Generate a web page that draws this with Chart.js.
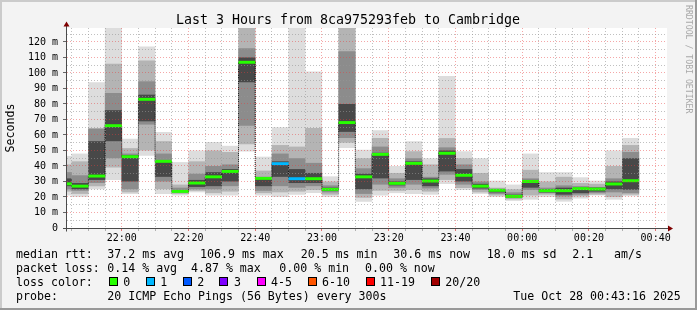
<!DOCTYPE html>
<html>
<head>
<meta charset="utf-8">
<script src="https://cdn.jsdelivr.net/npm/chart.js@4.4.1/dist/chart.umd.min.js"></script>
<style>
  html, body { margin: 0; padding: 0; background: #f3f3f3; }
  canvas { display: block; }
</style>
</head>
<body>
<canvas id="smoke" width="697" height="310"></canvas>
<script>
// 5 minute bins, start time of each bin
var times = ["21:40", "21:45", "21:50", "21:55", "22:00", "22:05", "22:10", "22:15", "22:20", "22:25",
             "22:30", "22:35", "22:40", "22:45", "22:50", "22:55", "23:00", "23:05", "23:10", "23:15",
             "23:20", "23:25", "23:30", "23:35", "23:40", "23:45", "23:50", "23:55", "00:00", "00:05",
             "00:10", "00:15", "00:20", "00:25", "00:30"];

// median rtt (ms) and lost pings per bin
var median = [28.5, 27, 33.5, 66, 46, 83, 43, 23.6, 29, 33, 36.5, 106.9, 32, 41.5, 31.8, 31.8, 24.9, 68,
              33, 47.5, 28.8, 41.7, 30.3, 48.2, 34, 27, 24.3, 20.4, 30, 24.1, 24.1, 25.4, 25.1, 28.4, 30.5];
var lost = [0, 0, 0, 0, 0, 0, 0, 0, 0, 0, 0, 0, 0, 1, 1, 0, 0, 0, 0, 0, 0, 0, 0, 0, 0, 0, 0, 0, 0, 0, 0, 0, 0, 0, 0];

// smoke bands (ms), outermost to innermost
var outerLo = [21, 20, 25, 31, 22, 46.6, 22, 21, 23, 21, 21, 49.4, 21, 20, 21.5, 22.5, 20, 51.6, 17, 21,
               22.5, 22, 21.5, 28.4, 24.5, 22, 20, 17.5, 18.3, 20, 17, 19, 21, 18.3, 20.5];
var outerHi = [46.5, 48, 94, 135, 57.5, 117, 62, 42.5, 50, 55.5, 53, 140, 46, 65, 140, 101, 33.3, 140, 50.5, 63,
               40, 56, 45, 98, 49.5, 45, 30.5, 28, 48, 36, 36, 32.7, 30.5, 50, 58];
var band2Lo = [23.5, 22, 27, 39, 23, 50, 25, 22, 24, 22.5, 23.5, 54, 22.5, 23, 23.5, 24.5, 21.5, 55, 19.5, 24,
               24, 24.5, 23.5, 31, 25.8, 23, 21, 18.5, 21, 21.5, 18.5, 20.4, 21.5, 20, 21.5];
var band2Hi = [41, 43, 64.5, 106, 51.5, 108, 56, 28, 43, 50, 49, 140, 37, 53.5, 52.5, 64.5, 30, 140, 45, 58,
               35.5, 49.5, 41, 58, 45, 35.5, 26, 25, 37.5, 30, 33, 29, 28.5, 40, 53.5];
var band3Lo = [25, 24, 29, 45, 25, 66.7, 30, 22.8, 25, 25, 27, 66, 24, 27, 26, 27, 23, 58, 22, 28,
               26, 28, 25.5, 34.4, 28, 24.5, 22, 19.3, 24.5, 22.5, 20.4, 21.5, 22.5, 23, 22.5];
var band3Hi = [36, 34, 64, 87, 48, 94.6, 48, 26, 35, 40, 41, 116, 33, 48, 45, 42, 27.5, 114, 38.5, 52.5,
               32, 45, 33, 52, 41, 30, 25.3, 23, 32, 26, 27.5, 27, 26.5, 32, 49];
var band4Lo = [27, 25, 31, 56, 30, 68.8, 33, 23.2, 26.5, 27, 30, 94, 27, 33, 29, 29, 24, 62, 25, 32,
               27.5, 31, 27, 36.5, 30, 25.5, 23, 19.8, 26, 23, 21.5, 22.5, 23.5, 25, 24.7];
var band4Hi = [32, 29, 56, 76, 47, 86, 43.5, 24.5, 31, 36, 38, 110, 32.5, 43, 38, 35.5, 26, 80, 35, 48.5,
               30, 43, 32, 50, 38, 28.5, 25, 21.5, 31, 25, 26, 26, 26, 30, 45];

var xLabels = ["22:00", "22:20", "22:40", "23:00", "23:20", "23:40", "00:00", "00:20", "00:40"];

var lossLabels = ["0", "1", "2", "3", "4-5", "6-10", "11-19", "20/20"];
var lossColors = ["#26ff00", "#00b8ff", "#0059ff", "#7e00ff", "#ff00ff", "#ff5500", "#ff0000", "#a10000"];

var rttStats = ["37.2 ms avg", "106.9 ms max", "20.5 ms min", "30.6 ms now", "18.0 ms sd", "2.1", "am/s"];
var lossStats = ["0.14 % avg", "4.87 % max", "0.00 % min", "0.00 % now"];

var MONO = "'DejaVu Sans Mono', monospace";

// minutes from 22:00
function toMin(t) {
    var p = t.split(":");
    var h = +p[0], m = +p[1];
    if (h < 12) h += 24;
    return h * 60 + m - 22 * 60;
}
function lossIndex(n) {
    if (n <= 3) return n;
    if (n <= 5) return 4;
    if (n <= 10) return 5;
    if (n <= 19) return 6;
    return 7;
}
function band(lo, hi) {
    return times.map(function (t, i) { return { x: toMin(t) + 2.5, y: [lo[i], hi[i]] }; });
}

var barCommon = { type: "bar", grouped: false, barPercentage: 1.02, categoryPercentage: 1, borderWidth: 0, clip: 0 };

var rrdFrame = {
    id: "rrdFrame",
    beforeDraw: function (chart) {
        var ctx = chart.ctx, a = chart.chartArea;
        ctx.save();
        ctx.fillStyle = "#f3f3f3";
        ctx.fillRect(0, 0, 697, 310);
        ctx.fillStyle = "#ffffff";
        ctx.fillRect(a.left, a.top, a.right - a.left, a.bottom - a.top);
        // 3d border
        ctx.fillStyle = "#cbcbcb";
        ctx.fillRect(0, 0, 697, 2);
        ctx.fillRect(0, 0, 2, 310);
        ctx.fillStyle = "#999999";
        ctx.fillRect(0, 308, 697, 2);
        ctx.fillRect(695, 0, 2, 310);
        ctx.restore();
    },
    afterDraw: function (chart) {
        var ctx = chart.ctx, a = chart.chartArea;
        ctx.save();
        // axes
        ctx.strokeStyle = "#4a4a4a";
        ctx.lineWidth = 1;
        ctx.beginPath();
        ctx.moveTo(a.left - 0.5, a.top - 2);
        ctx.lineTo(a.left - 0.5, a.bottom + 3.5);
        ctx.moveTo(a.left - 4, a.bottom + 0.5);
        ctx.lineTo(a.right + 1, a.bottom + 0.5);
        ctx.stroke();
        ctx.fillStyle = "#7f0000";
        ctx.beginPath();
        ctx.moveTo(a.left - 0.5, a.top - 6.5);
        ctx.lineTo(a.left - 3.5, a.top - 1.5);
        ctx.lineTo(a.left + 2.5, a.top - 1.5);
        ctx.closePath();
        ctx.fill();
        ctx.beginPath();
        ctx.moveTo(a.right + 6, a.bottom + 0.5);
        ctx.lineTo(a.right + 1, a.bottom - 2.5);
        ctx.lineTo(a.right + 1, a.bottom + 3.5);
        ctx.closePath();
        ctx.fill();

        // title
        ctx.fillStyle = "#000";
        ctx.font = "13.3px " + MONO;
        ctx.textAlign = "center";
        ctx.textBaseline = "alphabetic";
        ctx.fillText("Last 3 Hours from 8ca975293feb to Cambridge", 348, 24);

        // legend
        ctx.font = "11.6px " + MONO;
        ctx.textAlign = "left";
        var rttX = [107.3, 200, 300.7, 393.3, 486.7, 572.3, 614];
        ctx.fillText("median rtt:", 16, 258.3);
        rttStats.forEach(function (s, i) { ctx.fillText(s, rttX[i], 258.3); });
        var lossX = [107.3, 191, 279.3, 365];
        ctx.fillText("packet loss:", 16, 272);
        lossStats.forEach(function (s, i) { ctx.fillText(s, lossX[i], 272); });
        ctx.fillText("loss color:", 16, 285.7);
        var boxX = [108.7, 145.7, 182.7, 219.3, 256.5, 307.5, 365.5, 430.7];
        lossLabels.forEach(function (s, i) {
            var bx = Math.round(boxX[i]);
            ctx.fillStyle = lossColors[i];
            ctx.fillRect(bx, 277, 8, 9);
            ctx.strokeStyle = "#000";
            ctx.strokeRect(bx + 0.5, 277.5, 8, 8);
            ctx.fillStyle = "#000";
            ctx.fillText(s, boxX[i] + 14.6, 285.7);
        });
        ctx.fillText("probe:", 16, 299.5);
        ctx.fillText("20 ICMP Echo Pings (56 Bytes) every 300s", 107.3, 299.5);
        ctx.fillText("Tue Oct 28 00:43:16 2025", 513.3, 299.5);

        // watermark
        ctx.translate(688, 5);
        ctx.rotate(Math.PI / 2);
        ctx.font = "8.2px " + MONO;
        ctx.fillStyle = "#a8a8a8";
        ctx.textBaseline = "middle";
        ctx.fillText("RRDTOOL / TOBI OETIKER", 0, 0);
        ctx.restore();
    }
};

function gridColor(major, minor) {
    return function (c) {
        var v = c.tick ? c.tick.value : 0;
        if (Math.abs(v % major) < 1e-6) return "rgba(230,60,60,0.45)";
        if (Math.abs(v % minor) < 1e-6) return "rgba(150,150,150,0.6)";
        return "rgba(0,0,0,0)";
    };
}

var ctx = document.getElementById("smoke").getContext("2d");
var smokeChart = new Chart(ctx, {
    type: "bar",
    data: {
        datasets: [
            Object.assign({}, barCommon, {
                label: "median",
                order: 0,
                data: times.map(function (t, i) { return { x: toMin(t) + 2.5, y: [median[i] - 0.95, median[i] + 0.95] }; }),
                backgroundColor: lost.map(function (n) { return lossColors[lossIndex(n)]; })
            }),
            {
                type: "line",
                label: "step",
                order: 1,
                data: times.map(function (t, i) { return { x: toMin(t) + 2.5, y: median[i] }; }),
                stepped: "middle",
                borderColor: "#111",
                borderWidth: 1,
                borderDash: [1, 1],
                pointRadius: 0,
                fill: false,
                clip: 0
            },
            Object.assign({}, barCommon, { label: "b4", order: 2, data: band(band4Lo, band4Hi), backgroundColor: "#484848" }),
            Object.assign({}, barCommon, { label: "b3", order: 3, data: band(band3Lo, band3Hi), backgroundColor: "#8c8c8c" }),
            Object.assign({}, barCommon, { label: "b2", order: 4, data: band(band2Lo, band2Hi), backgroundColor: "#b4b4b4" }),
            Object.assign({}, barCommon, { label: "outer", order: 5, data: band(outerLo, outerHi), backgroundColor: "#dddddd" })
        ]
    },
    options: {
        responsive: false,
        animation: false,
        devicePixelRatio: 1,
        layout: { padding: { top: 28, right: 30, bottom: 0, left: 0 } },
        plugins: { legend: { display: false }, tooltip: { enabled: false }, title: { display: false } },
        scales: {
            x: {
                type: "linear",
                min: -16.4,
                max: 163.4,
                offset: false,
                ticks: {
                    stepSize: 5,
                    includeBounds: false,
                    autoSkip: false,
                    maxRotation: 0,
                    minRotation: 0,
                    padding: 1,
                    color: "#000",
                    font: { family: MONO, size: 10 },
                    callback: function (v) { return v % 20 === 0 ? xLabels[v / 20] : ""; }
                },
                grid: {
                    offset: false,
                    z: 1,
                    color: gridColor(20, 5),
                    tickLength: 3,
                    tickColor: function (c) { return c.tick && c.tick.value % 20 === 0 ? "#e07070" : "#b0b0b0"; }
                },
                border: { display: false, dash: [1, 2] },
                afterFit: function (s) { s.height = 82; }
            },
            y: {
                min: 0,
                max: 129,
                ticks: {
                    stepSize: 5,
                    includeBounds: false,
                    autoSkip: false,
                    padding: 5,
                    color: "#000",
                    font: { family: MONO, size: 10 },
                    callback: function (v) { return v % 10 === 0 ? (v === 0 ? "0" : v + " m") : ""; }
                },
                grid: {
                    z: 1,
                    color: gridColor(10, 5),
                    tickLength: 4,
                    tickColor: function (c) { return c.tick && c.tick.value % 10 === 0 ? "#666" : "rgba(0,0,0,0)"; }
                },
                border: { display: false, dash: [1, 2] },
                title: { display: true, text: "Seconds", color: "#000", font: { family: MONO, size: 11.6 }, padding: { top: 4, bottom: 0 } },
                afterFit: function (s) { s.width = 67; }
            }
        }
    },
    plugins: [rrdFrame]
});
</script>
</body>
</html>
